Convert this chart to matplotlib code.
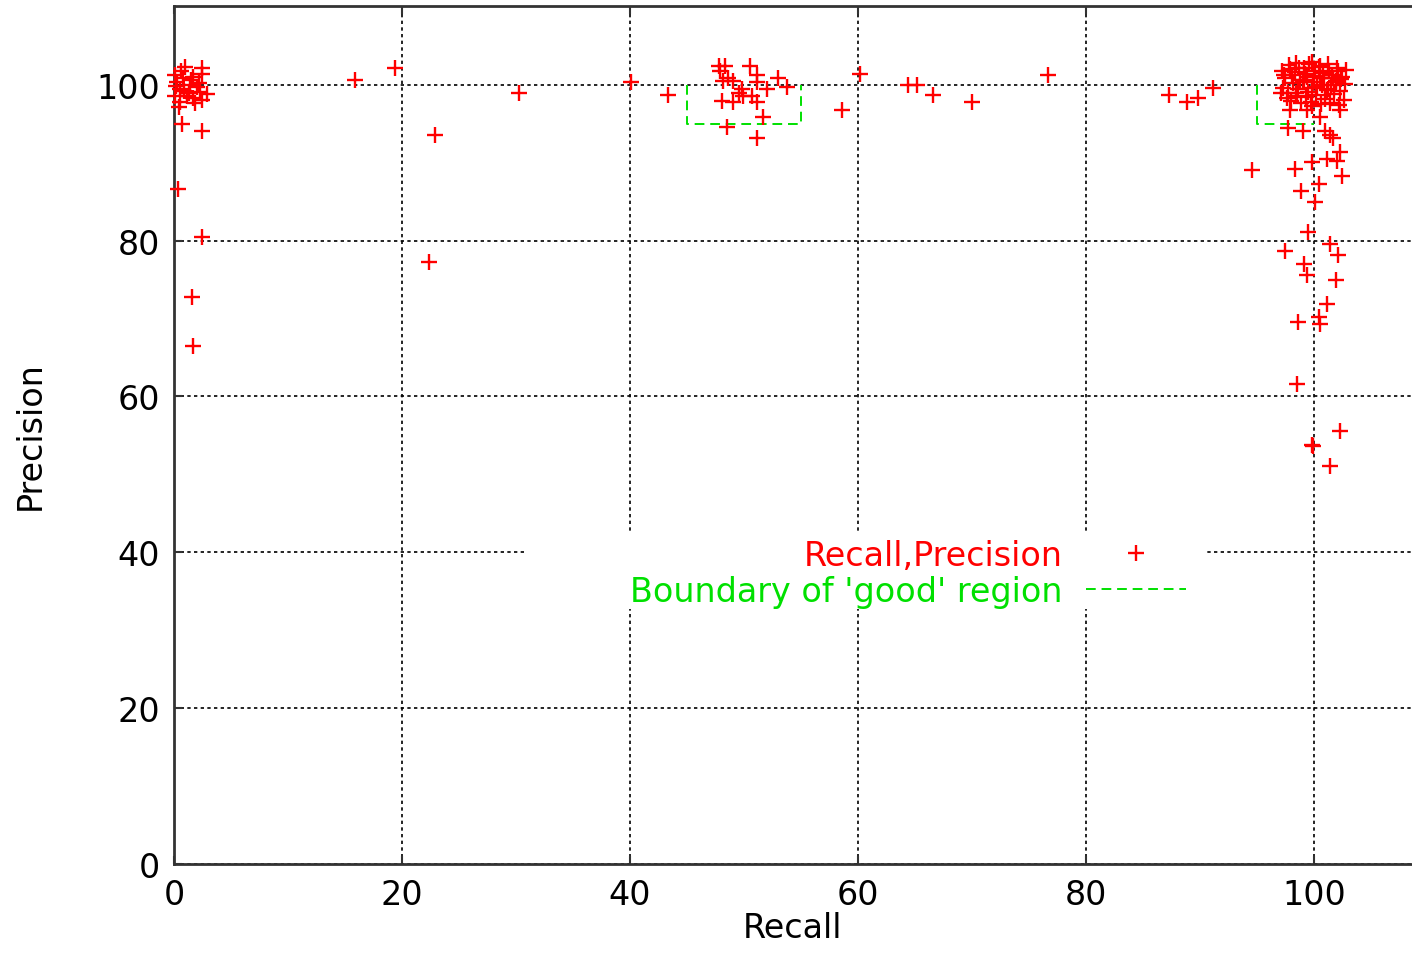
import numpy as np
import matplotlib.pyplot as plt
from matplotlib.patches import Rectangle

# recall / precision pairs
recall = [
    # cluster near recall 0
    0.05, 1.0, 2.5, 2.5, 0.3, 0.8, 1.7, 1.4, 2.0, 0.5, 0.1, 1.1, 2.3, 2.9,
    0.5, 1.7, 2.5, 0.4, 1.8, 0.6, 1.3, 0.9, 2.2, 0.2, 1.5,
    0.7, 2.5, 0.35, 2.5, 1.6, 1.7,
    # scattered middle
    15.9, 19.4, 22.9, 22.4, 30.3, 40.1, 43.3,
    47.8, 48.3, 50.5, 47.9, 48.6, 48.2, 49.0, 51.1, 51.1, 53.0, 53.8, 52.0,
    49.8, 49.6, 49.9, 48.1, 49.0, 50.7, 51.1, 51.7, 48.5, 51.1,
    58.6, 60.2, 64.4, 65.2, 66.6, 70.0, 76.7, 87.3, 88.9, 89.8, 91.1,
    # cluster near recall 100
    97.2, 97.5, 97.8, 98.1, 98.4, 98.8, 99.1, 99.4, 99.8, 100.1, 100.5, 100.9,
    101.2, 101.6, 102.0, 102.4, 102.8, 97.3, 97.7, 98.2, 98.6, 99.0, 99.5,
    99.9, 100.3, 100.7, 101.1, 101.5, 101.9, 102.3, 102.7, 97.1, 97.6, 98.0,
    98.5, 98.9, 99.3, 99.7, 100.2, 100.6, 101.0, 101.4, 101.8, 102.2, 102.6,
    97.4, 97.9, 98.3, 98.7, 99.2, 99.6, 100.0, 100.4, 100.8, 101.3, 101.7,
    102.1, 102.5, 98.4, 99.1, 99.8, 100.5, 101.2, 101.9, 97.9, 99.4,
    94.6, 97.7, 99.0, 100.5, 99.8, 102.3, 101.0, 101.4, 101.7, 102.3, 98.3,
    99.8, 101.1, 102.0, 102.5, 100.4, 98.9, 100.1, 99.5, 101.4, 97.5, 102.1,
    99.1, 99.4, 101.9, 101.1, 100.4, 98.6, 100.5, 98.5, 102.3, 99.8, 99.9,
    101.4,
]
precision = [
    101.2, 102.3, 102.1, 101.4, 100.4, 100.8, 101.0, 99.9, 99.7, 99.5, 98.6,
    98.6, 99.1, 98.8, 97.8, 98.3, 98.0, 97.2, 97.6, 101.8, 98.9, 99.2, 100.2,
    99.8, 100.6,
    95.0, 94.0, 86.6, 80.5, 72.8, 66.5,
    100.6, 102.1, 93.6, 77.2, 99.0, 100.3, 98.7,
    102.4, 102.4, 102.4, 101.7, 100.8, 100.5, 100.5, 101.2, 100.4, 100.8,
    99.7, 99.4, 99.4, 99.0, 98.6, 97.9, 97.8, 98.5, 97.8, 95.9, 94.6, 93.1,
    96.7, 101.4, 100.0, 100.0, 98.7, 97.8, 101.2, 98.7, 97.8, 98.3, 99.6,
    101.8, 100.9, 102.5, 101.3, 102.8, 100.6, 102.2, 101.0, 102.9, 101.7,
    102.4, 100.9, 102.6, 101.3, 102.1, 100.7, 101.9, 99.6, 98.9, 100.2, 99.4,
    100.3, 99.1, 100.4, 99.7, 100.0, 99.3, 99.9, 100.5, 99.2, 100.1, 98.9,
    98.3, 97.9, 98.6, 97.6, 98.4, 97.8, 98.7, 97.5, 98.2, 97.7, 98.8, 97.4,
    98.1, 101.2, 102.0, 101.6, 102.2, 101.4, 102.6, 101.1, 102.3, 101.5,
    101.8, 100.8, 101.7, 101.0, 99.0, 100.6, 99.6, 100.8, 99.5, 100.3, 96.7,
    96.7,
    89.0, 94.4, 94.0, 95.9, 97.3, 96.7, 94.1, 93.5, 93.1, 91.4, 89.2, 90.1,
    90.5, 90.2, 88.3, 87.3, 86.4, 85.0, 81.1, 79.6, 78.7, 78.2, 77.0, 75.6,
    75.0, 71.8, 70.2, 69.6, 69.3, 61.6, 55.5, 53.8, 53.7, 51.1,
]

# boundary of the 'good' region, segments separated by nan
boundary_x = [45, 45, 55, 55, np.nan, 95, 95, 100]
boundary_y = [100, 95, 95, 100, np.nan, 100, 95, 95]

fig = plt.figure(figsize=(14.12, 9.54), dpi=100)
ax = fig.add_axes([174 / 1412, 89 / 954, 1238 / 1412, 858 / 954])

ax.plot(recall, precision, linestyle="none", marker="+", color="#ff0000",
        markersize=11, markeredgewidth=1.7, label="Recall,Precision",
        zorder=4, clip_on=False)
ax.plot(boundary_x, boundary_y, color="#00e000", linewidth=1.4,
        dashes=(5, 3), label="Boundary of 'good' region", zorder=3)

ax.set_xlim(0, 108.6)
ax.set_ylim(0, 110.1)
ax.set_xticks([0, 20, 40, 60, 80, 100])
ax.set_yticks([0, 20, 40, 60, 80, 100])
ax.tick_params(direction="in", length=6, width=1.5, color="#333333",
               labelsize=24, top=True, pad=10)
ax.grid(True, color="black", linestyle=(0, (2, 2)), linewidth=1.2)
for side in ["left", "bottom", "top"]:
    ax.spines[side].set_color("#333333")
    ax.spines[side].set_linewidth(2)
ax.spines["right"].set_visible(False)

ax.set_xlabel("Recall", fontsize=24, labelpad=0)
ax.set_ylabel("Precision", fontsize=24, labelpad=36)

# white box behind the key, like gnuplot
ax.add_patch(Rectangle((30.8, 32.7), 59.6, 9.7, facecolor="white",
                       edgecolor="none", zorder=2.5))
leg = ax.legend(loc="upper right", bbox_to_anchor=(0.8175, 0.379),
                markerfirst=False, frameon=False, fontsize=24,
                handlelength=3.0, handletextpad=0.7, labelspacing=0.1,
                borderpad=0, borderaxespad=0)
leg.texts[0].set_color("#ff0000")
leg.texts[1].set_color("#00e000")

fig.savefig("out.png", dpi=100)
